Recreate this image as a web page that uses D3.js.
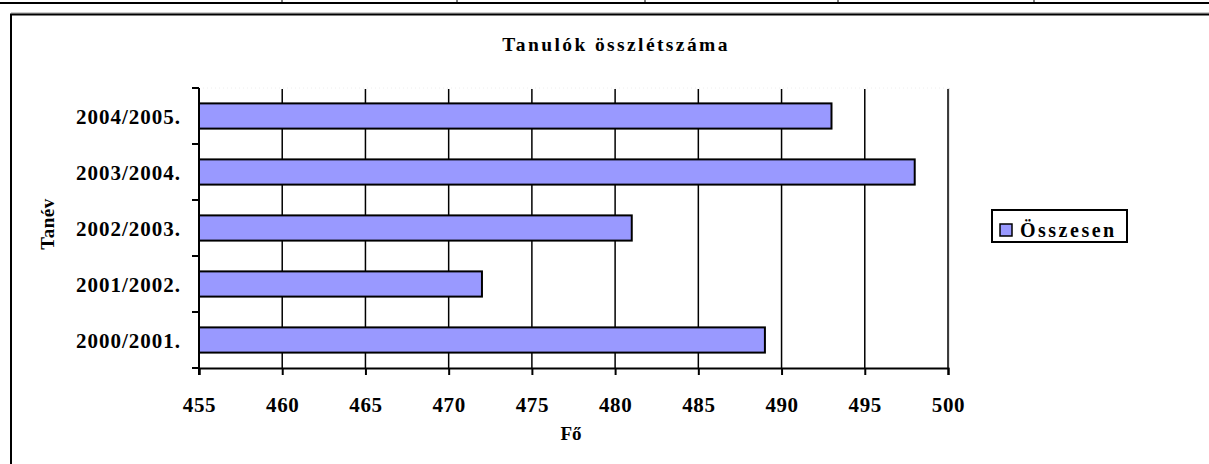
<!DOCTYPE html>
<html>
<head>
<meta charset="utf-8">
<script src="https://cdn.jsdelivr.net/npm/d3@7"></script>
<style>
  body { margin: 0; background: #fff; }
  svg text { font-family: "Liberation Serif", "Times New Roman", serif; font-weight: bold; fill: #000; }
</style>
</head>
<body>
<div id="chart"></div>
<script>
var years = ["2000/2001.", "2001/2002.", "2002/2003.", "2003/2004.", "2004/2005."];
var totals = [489, 472, 481, 498, 493];
var xTicks = [455, 460, 465, 470, 475, 480, 485, 490, 495, 500];
var tableCols = [282, 457, 645, 838, 1034];

var w = 1209, h = 464;
var svg = d3.select("#chart").append("svg")
	.attr("width", w)
	.attr("height", h);

// table row above the chart
svg.append("line")
	.attr("x1", 0).attr("x2", w).attr("y1", 3).attr("y2", 3)
	.attr("stroke", "#000").attr("stroke-width", 2);
svg.selectAll(".tcol").data(tableCols).enter().append("line")
	.attr("class", "tcol")
	.attr("x1", function(d){ return d; }).attr("x2", function(d){ return d; })
	.attr("y1", 0).attr("y2", 3)
	.attr("stroke", "#000").attr("stroke-width", 1);

// chart frame
svg.append("line").attr("x1", 11).attr("x2", w).attr("y1", 13).attr("y2", 13)
	.attr("stroke", "#999").attr("stroke-width", 1);
svg.append("rect")
	.attr("x", 11).attr("y", 14.5)
	.attr("width", w + 10).attr("height", h)
	.attr("fill", "none").attr("stroke", "#000").attr("stroke-width", 2);

var plotL = 199, plotR = 948, plotT = 88, plotB = 368;

var x = d3.scaleLinear().domain([455, 500]).range([plotL, plotR]);
var y = d3.scaleBand().domain(years.slice().reverse()).range([plotT, plotB]).paddingInner(0.55).paddingOuter(0.275);

// plot border (light)
svg.append("line").attr("x1", plotR + 1).attr("x2", plotR + 1).attr("y1", plotT).attr("y2", plotB)
	.attr("stroke", "#ddd").attr("stroke-width", 1.5);
svg.append("line").attr("x1", plotL).attr("x2", plotR).attr("y1", plotT).attr("y2", plotT)
	.attr("stroke", "#eee").attr("stroke-width", 1).attr("stroke-dasharray", "1,3");

// gridlines
svg.selectAll(".grid").data(xTicks.slice(1)).enter().append("line")
	.attr("class", "grid")
	.attr("x1", function(d){ return x(d); }).attr("x2", function(d){ return x(d); })
	.attr("y1", plotT + 1).attr("y2", plotB)
	.attr("stroke", "#000").attr("stroke-width", 1.5);

// bars
svg.selectAll(".bar").data(years).enter().append("rect")
	.attr("class", "bar")
	.attr("x", x(455))
	.attr("y", function(d){ return y(d); })
	.attr("width", function(d, i){ return x(totals[i]) - x(455); })
	.attr("height", y.bandwidth())
	.attr("fill", "#9999ff")
	.attr("stroke", "#000").attr("stroke-width", 2);

// x axis
var xAxis = svg.append("g")
	.attr("transform", "translate(0," + plotB + ")")
	.call(d3.axisBottom(x).tickValues(xTicks).tickSize(7).tickPadding(22));
xAxis.select(".domain").attr("stroke-width", 2);
xAxis.selectAll(".tick line").attr("stroke-width", 2);
xAxis.selectAll("text")
	.style("font-size", "21px").style("letter-spacing", "0.6px")
	.style("font-family", "'Liberation Serif', serif");

// y axis (ticks between categories)
var yEdges = d3.range(years.length + 1).map(function(i){ return plotT + i * (plotB - plotT) / years.length; });
svg.append("line").attr("x1", plotL).attr("x2", plotL).attr("y1", plotT).attr("y2", plotB + 7)
	.attr("stroke", "#000").attr("stroke-width", 2);
svg.selectAll(".ytick").data(yEdges).enter().append("line")
	.attr("class", "ytick")
	.attr("x1", plotL - 7).attr("x2", plotL)
	.attr("y1", function(d){ return d; }).attr("y2", function(d){ return d; })
	.attr("stroke", "#000").attr("stroke-width", 2);
svg.selectAll(".ylab").data(years).enter().append("text")
	.attr("class", "ylab")
	.attr("x", 181)
	.attr("y", function(d){ return y(d) + y.bandwidth() / 2 + 8; })
	.attr("text-anchor", "end")
	.style("font-size", "21px").style("letter-spacing", "1px")
	.text(function(d){ return d; });

// title and axis titles
svg.append("text").attr("x", 616).attr("y", 51).attr("text-anchor", "middle")
	.style("font-size", "19.5px").style("letter-spacing", "2.4px")
	.text("Tanulók összlétszáma");
svg.append("text").attr("transform", "translate(54,224) rotate(-90)").attr("text-anchor", "middle")
	.style("font-size", "19px").style("letter-spacing", "0.5px")
	.text("Tanév");
svg.append("text").attr("x", 571).attr("y", 440).attr("text-anchor", "middle")
	.style("font-size", "19px")
	.text("Fő");

// legend
var lg = svg.append("g");
lg.append("rect").attr("x", 992).attr("y", 210).attr("width", 135).attr("height", 32)
	.attr("fill", "#fff").attr("stroke", "#000").attr("stroke-width", 2);
lg.append("rect").attr("x", 1000).attr("y", 224).attr("width", 12).attr("height", 12)
	.attr("fill", "#9999ff").attr("stroke", "#000").attr("stroke-width", 1.5);
lg.append("text").attr("x", 1020).attr("y", 237)
	.style("font-size", "20px").style("letter-spacing", "2.5px")
	.text("Összesen");
</script>
</body>
</html>
